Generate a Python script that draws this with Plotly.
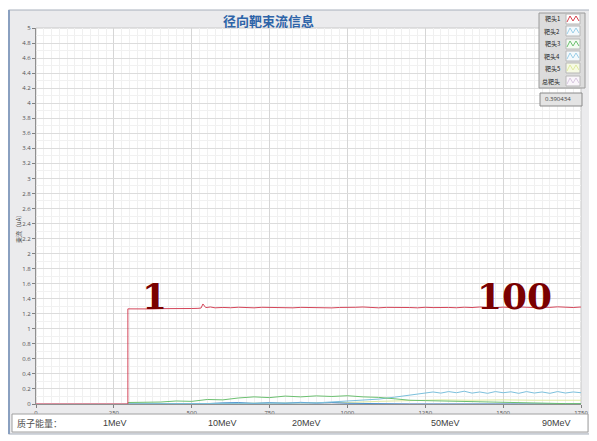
import plotly.graph_objects as go

# ---------------- data ----------------
red_x = [0, 295, 295, 325, 350, 375, 400, 425, 450, 475, 500, 520, 530, 536, 545, 560, 575, 600, 625, 650,
         675, 700, 725, 750, 775, 800, 825, 850, 875, 900, 925, 950, 975, 1000, 1025, 1050, 1075, 1100,
         1125, 1150, 1175, 1200, 1225, 1250, 1275, 1300, 1325, 1350, 1375, 1400, 1425, 1450, 1475, 1500,
         1525, 1550, 1575, 1600, 1625, 1650, 1675, 1700, 1725, 1750]
red_y = [0.0, 0.0, 1.265, 1.262, 1.267, 1.264, 1.268, 1.266, 1.271, 1.267, 1.27, 1.272, 1.276, 1.33, 1.282, 1.29, 1.279, 1.284, 1.28, 1.287,
         1.283, 1.279, 1.286, 1.282, 1.288, 1.284, 1.279, 1.285, 1.281, 1.287, 1.282, 1.278, 1.284, 1.28, 1.286, 1.29, 1.284, 1.279,
         1.285, 1.281, 1.287, 1.283, 1.279, 1.286, 1.282, 1.288, 1.284, 1.28, 1.287, 1.283, 1.29, 1.285, 1.281, 1.288,
         1.284, 1.291, 1.286, 1.282, 1.289, 1.285, 1.292, 1.287, 1.283, 1.29]

green_x = [295, 350, 400, 450, 500, 550, 600, 650, 700, 750, 800, 850, 900, 950, 1000, 1050, 1100,
           1150, 1200, 1250, 1300, 1350, 1400, 1450, 1500, 1550, 1600, 1650, 1700, 1750]
green_y = [0.02, 0.018, 0.026, 0.04, 0.035, 0.06, 0.055, 0.08, 0.095, 0.085, 0.105, 0.095, 0.108, 0.1, 0.11,
           0.095, 0.088, 0.07, 0.05, 0.045, 0.04, 0.036, 0.03, 0.022, 0.016, 0.012, 0.01, 0.006, 0.005, 0.005]

lblue_x = [295, 700, 900, 1000, 1050, 1100, 1150, 1200, 1225, 1250, 1275, 1300, 1325, 1350, 1375, 1400,
           1425, 1450, 1475, 1500, 1525, 1550, 1575, 1600, 1625, 1650, 1675, 1700, 1725, 1750]
lblue_y = [0.0, 0.005, 0.015, 0.04, 0.05, 0.065, 0.09, 0.12, 0.135, 0.145, 0.16, 0.145, 0.165, 0.15, 0.17, 0.145,
           0.16, 0.142, 0.165, 0.15, 0.162, 0.142, 0.165, 0.146, 0.16, 0.142, 0.165, 0.146, 0.16, 0.15]

blue_x = [295, 450, 500, 550, 600, 650, 700, 750, 800, 850, 900, 950, 1000, 1050, 1100, 1200, 1300, 1750]
blue_y = [0.0, 0.0, 0.01, 0.005, 0.015, 0.02, 0.008, 0.018, 0.01, 0.022, 0.012, 0.02, 0.01, 0.005, 0.003, 0.0, 0.0, 0.0]

yg_x = [295, 900, 1000, 1100, 1200, 1300, 1400, 1500, 1600, 1700, 1750]
yg_y = [0.0, 0.01, 0.02, 0.035, 0.05, 0.055, 0.05, 0.055, 0.05, 0.055, 0.05]

total_x = [0, 1750]
total_y = [0.0, 0.0]

series_names = ["靶头1", "靶头2", "靶头3", "靶头4", "靶头5", "总靶头"]
energy_labels = ["1MeV", "10MeV", "20MeV", "50MeV", "90MeV"]
title_text = "径向靶束流信息"
y_title = "束流（uA）"
readout = "0.390434"

# ---------------- geometry (page pixels; the page body adds an 8px offset) ----------------
OFF = 8
L, R, T, B = 36, 581, 28, 404
PAGE_W, PAGE_H = 597, 441
W, H = PAGE_W - OFF, PAGE_H - OFF


def px(x):
    return (x - L) / (R - L)


def py(y):
    return (B - y) / (B - T)


fig = go.Figure()
fig.add_trace(go.Scatter(x=total_x, y=total_y, mode="lines", line=dict(color="#d8c8e0", width=1)))
fig.add_trace(go.Scatter(x=yg_x, y=yg_y, mode="lines", line=dict(color="#dfeaa0", width=1)))
fig.add_trace(go.Scatter(x=blue_x, y=blue_y, mode="lines", line=dict(color="#4a90d0", width=1)))
fig.add_trace(go.Scatter(x=lblue_x, y=lblue_y, mode="lines", line=dict(color="#7cc0dc", width=1)))
fig.add_trace(go.Scatter(x=green_x, y=green_y, mode="lines", line=dict(color="#6cc070", width=1)))
fig.add_trace(go.Scatter(x=red_x, y=red_y, mode="lines", line=dict(color="#d4465a", width=1)))

shapes = []
# outer grey panel
shapes.append(dict(type="rect", xref="paper", yref="paper", x0=px(8.5), x1=px(592), y0=py(434), y1=py(10),
                   fillcolor="#ebebed", line=dict(color="#a8b0bc", width=1), layer="below"))
shapes.append(dict(type="line", xref="paper", yref="paper", x0=px(9), x1=px(9), y0=py(434), y1=py(10),
                   line=dict(color="#8aa0c0", width=2), layer="below"))
# plot area white
shapes.append(dict(type="rect", xref="paper", yref="paper", x0=0, x1=1, y0=0, y1=1,
                   fillcolor="white", line=dict(color="#c8c8c8", width=1), layer="below"))
# bottom strip
shapes.append(dict(type="rect", xref="paper", yref="paper", x0=px(12), x1=px(588), y0=py(432), y1=py(414),
                   fillcolor="white", line=dict(color="#a0a0a0", width=1)))
# legend box
shapes.append(dict(type="rect", xref="paper", yref="paper", x0=px(539), x1=px(585), y0=py(88), y1=py(13),
                   fillcolor="#dcdcdc", line=dict(color="#9a9a9a", width=1)))
# readout box
shapes.append(dict(type="rect", xref="paper", yref="paper", x0=px(540), x1=px(582), y0=py(106), y1=py(93),
                   fillcolor="#e4e4e4", line=dict(color="#8a8a8a", width=1)))

row_y = [19, 31, 44, 56, 68, 81]
sym_colors = ["#d8404c", "#9ccfe8", "#6cc070", "#9ccfe8", "#dfeaa0", "#d8c8e0"]
sym_fill = ["#ffffff", "#f4f9fc", "#f4fbf2", "#f4f9fc", "#f6fae4", "#faf6fb"]
annotations = []
for name, yy, col, fc in zip(series_names, row_y, sym_colors, sym_fill):
    shapes.append(dict(type="rect", xref="paper", yref="paper", x0=px(566), x1=px(580), y0=py(yy + 5), y1=py(yy - 5),
                       fillcolor=fc, line=dict(color="#b8b8b8", width=1)))
    pts = [(567, yy + 3), (570, yy - 3), (573, yy + 2), (576, yy - 3), (579, yy + 2)]
    path = "M " + " L ".join(f"{px(a):.5f},{py(b):.5f}" for a, b in pts)
    shapes.append(dict(type="path", xref="paper", yref="paper", path=path, line=dict(color=col, width=1)))
    annotations.append(dict(text=name, xref="paper", yref="paper", x=px(562), y=py(yy), xanchor="right",
                            yanchor="middle", showarrow=False, font=dict(size=6, color="#202020", family="Noto Sans CJK SC")))

annotations.append(dict(text=readout, xref="paper", yref="paper", x=px(543), y=py(99.5), xanchor="left",
                        yanchor="middle", showarrow=False, font=dict(size=6, color="#404040")))
# title
annotations.append(dict(text="<b>" + title_text + "</b>", xref="paper", yref="paper", x=px(268), y=py(20),
                        xanchor="center", yanchor="middle", showarrow=False,
                        font=dict(size=13, color="#2e64a8", family="Noto Sans CJK SC")))
# bottom labels
annotations.append(dict(text="质子能量：", xref="paper", yref="paper", x=px(15), y=py(423), xanchor="left",
                        yanchor="middle", showarrow=False, font=dict(size=9, color="#505050", family="Noto Sans CJK SC")))
for lab, xx in zip(energy_labels, [115, 222, 306, 445, 556]):
    annotations.append(dict(text=lab, xref="paper", yref="paper", x=px(xx), y=py(423), xanchor="center",
                            yanchor="middle", showarrow=False, font=dict(size=9, color="#404040", family="Liberation Sans")))
# big numbers
annotations.append(dict(text="<b>1</b>", x=382, y=1.43, xref="x", yref="y", showarrow=False,
                        font=dict(size=36, color="#7a0000", family="DejaVu Serif")))
annotations.append(dict(text="<b>100</b>", x=1537, y=1.43, xref="x", yref="y", showarrow=False,
                        font=dict(size=36, color="#7a0000", family="DejaVu Serif")))
# y title
annotations.append(dict(text=y_title, xref="paper", yref="paper", x=px(18), y=py(228), textangle=-90,
                        xanchor="center", yanchor="middle", showarrow=False,
                        font=dict(size=6, color="#404040", family="Noto Sans CJK SC")))

fig.update_layout(
    width=W, height=H,
    margin=dict(l=L - OFF, r=PAGE_W - R, t=T - OFF, b=PAGE_H - B, autoexpand=False),
    paper_bgcolor="white", plot_bgcolor="rgba(0,0,0,0)",
    showlegend=False,
    shapes=shapes, annotations=annotations,
)
fig.update_xaxes(range=[0, 1750], dtick=250, tick0=0, showgrid=True, gridcolor="#d6d6d6", gridwidth=1,
                 minor=dict(dtick=25, showgrid=True, gridcolor="#f0f0f0", gridwidth=1),
                 ticks="outside", ticklen=3, tickcolor="#808080", automargin=False,
                 tickfont=dict(size=6, color="#505050"), showline=True, linecolor="#909090", zeroline=False)
fig.update_yaxes(range=[0, 5], dtick=0.2, tick0=0, showgrid=True, gridcolor="#dcdcdc", gridwidth=1,
                 minor=dict(dtick=0.1, showgrid=True, gridcolor="#f1f1f1", gridwidth=1),
                 ticks="outside", ticklen=3, tickcolor="#808080", automargin=False,
                 tickfont=dict(size=6, color="#505050"), showline=True, linecolor="#909090", zeroline=False)

fig.write_html("out.html")
